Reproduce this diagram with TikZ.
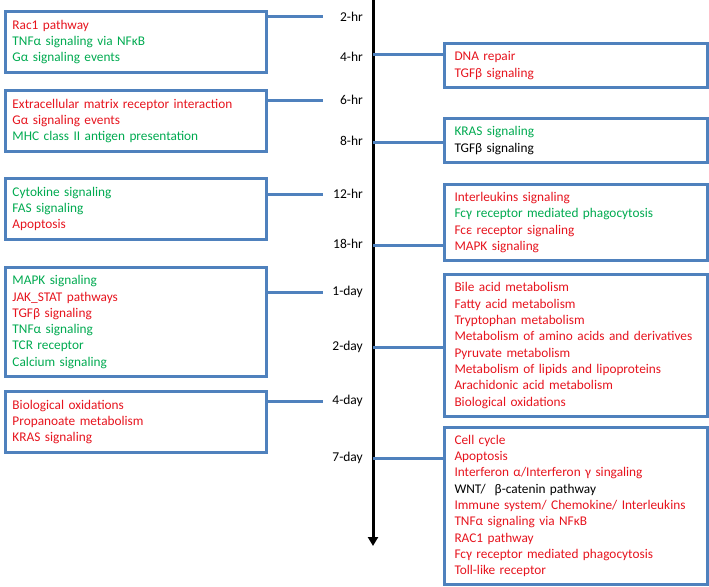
\documentclass[tikz,border=0pt]{standalone}
\usepackage{fontspec}
\setmainfont{Carlito}
\usetikzlibrary{arrows.meta}
\definecolor{tred}{RGB}{230,20,30}
\definecolor{tgreen}{RGB}{0,170,80}
\definecolor{tblue}{RGB}{79,129,189}
\newcommand{\rd}[1]{\textcolor{tred}{#1}}
\newcommand{\gn}[1]{\textcolor{tgreen}{#1}}
\newcommand{\bk}[1]{\textcolor{black}{#1}}
\begin{document}
\begin{tikzpicture}[x=1pt,y=-1pt,
  txt/.style={font=\fontsize{13.3}{16.3}\selectfont},
  lbox/.style={draw=tblue,line width=3pt,anchor=north west,minimum width=261pt,
    text width=247pt,inner xsep=7pt,inner ysep=0pt,align=left,txt},
  rbox/.style={draw=tblue,line width=3pt,anchor=north west,minimum width=263pt,
    text width=243pt,inner xsep=10pt,inner ysep=0pt,align=left,txt},
  tlab/.style={anchor=east,inner sep=0pt,font=\fontsize{13.5}{15}\selectfont},
  conn/.style={draw=tblue,line width=3pt},
  axis/.style={draw=black,line width=3pt,-{Triangle[width=10pt,length=9pt]}}]
\useasboundingbox (0,0) rectangle (709,586);

% axis
\coordinate (top) at (373,0);
\coordinate (bot) at (373,546);
\draw[axis] (top) -- (bot);

% time labels
\node[tlab] (t2h)  at (363,17)  {2-hr};
\node[tlab] (t4h)  at (363,57)  {4-hr};
\node[tlab] (t6h)  at (363,100) {6-hr};
\node[tlab] (t8h)  at (363,141) {8-hr};
\node[tlab] (t12h) at (363,194) {12-hr};
\node[tlab] (t18h) at (363,244) {18-hr};
\node[tlab] (t1d)  at (363,292) {1-day};
\node[tlab] (t2d)  at (363,347) {2-day};
\node[tlab] (t4d)  at (363,401) {4-day};
\node[tlab] (t7d)  at (363,458) {7-day};

% left boxes
\node[lbox,minimum height=61pt] (L1) at (4,10) {\rd{Rac1 pathway}\\\gn{TNFα signaling via NFκB}\\\gn{Gα signaling events}};
\node[lbox,minimum height=61pt] (L2) at (4,89) {\rd{Extracellular matrix receptor interaction}\\\rd{Gα signaling events}\\\gn{MHC class II antigen presentation}};
\node[lbox,minimum height=61pt] (L3) at (4,177) {\gn{Cytokine signaling}\\\gn{FAS signaling}\\\rd{Apoptosis}};
\node[lbox,minimum height=109pt] (L4) at (4,266) {\gn{MAPK signaling}\\\rd{JAK\_STAT pathways}\\\rd{TGFβ signaling}\\\gn{TNFα signaling}\\\gn{TCR receptor}\\\gn{Calcium signaling}};
\node[lbox,minimum height=61pt] (L5) at (4,390) {\rd{Biological oxidations}\\\rd{Propanoate metabolism}\\\rd{KRAS signaling}};

% right boxes
\node[rbox,minimum height=44pt] (R1) at (443,42) {\rd{DNA repair}\\\rd{TGFβ signaling}};
\node[rbox,minimum height=44pt] (R2) at (443,117) {\gn{KRAS signaling}\\\bk{TGFβ signaling}};
\node[rbox,minimum height=76pt] (R3) at (443,183) {\rd{Interleukins signaling}\\\gn{Fcγ receptor mediated phagocytosis}\\\rd{Fcε receptor signaling}\\\rd{MAPK signaling}};
\node[rbox,minimum height=142pt] (R4) at (443,273) {\rd{Bile acid metabolism}\\\rd{Fatty acid metabolism}\\\rd{Tryptophan metabolism}\\\rd{Metabolism of amino acids and derivatives}\\\rd{Pyruvate metabolism}\\\rd{Metabolism of lipids and lipoproteins}\\\rd{Arachidonic acid metabolism}\\\rd{Biological oxidations}};
\node[rbox,minimum height=157pt] (R5) at (443,426) {\rd{Cell cycle}\\\rd{Apoptosis}\\\rd{Interferon α/Interferon γ singaling}\\\bk{WNT/\ \ β-catenin pathway}\\\rd{Immune system/ Chemokine/ Interleukins}\\\rd{TNFα signaling via NFκB}\\\rd{RAC1 pathway}\\\rd{Fcγ receptor mediated phagocytosis}\\\rd{Toll-like receptor}};

% connector ends
\coordinate (c2h) at (323,17);
\coordinate (c6h) at (323,100);
\coordinate (c12h) at (323,194);
\coordinate (c1d) at (323,292);
\coordinate (c4d) at (323,401);
\coordinate (a4h) at (373,55);
\coordinate (a8h) at (373,142);
\coordinate (a18h) at (373,245);
\coordinate (a2d) at (373,347);
\coordinate (a7d) at (373,458);

\draw[conn] (L1.east |- c2h) -- (c2h);
\draw[conn] (L2.east |- c6h) -- (c6h);
\draw[conn] (L3.east |- c12h) -- (c12h);
\draw[conn] (L4.east |- c1d) -- (c1d);
\draw[conn] (L5.east |- c4d) -- (c4d);
\draw[conn] (a4h) -- (a4h -| R1.west);
\draw[conn] (a8h) -- (a8h -| R2.west);
\draw[conn] (a18h) -- (a18h -| R3.west);
\draw[conn] (a2d) -- (a2d -| R4.west);
\draw[conn] (a7d) -- (a7d -| R5.west);
\end{tikzpicture}
\end{document}
